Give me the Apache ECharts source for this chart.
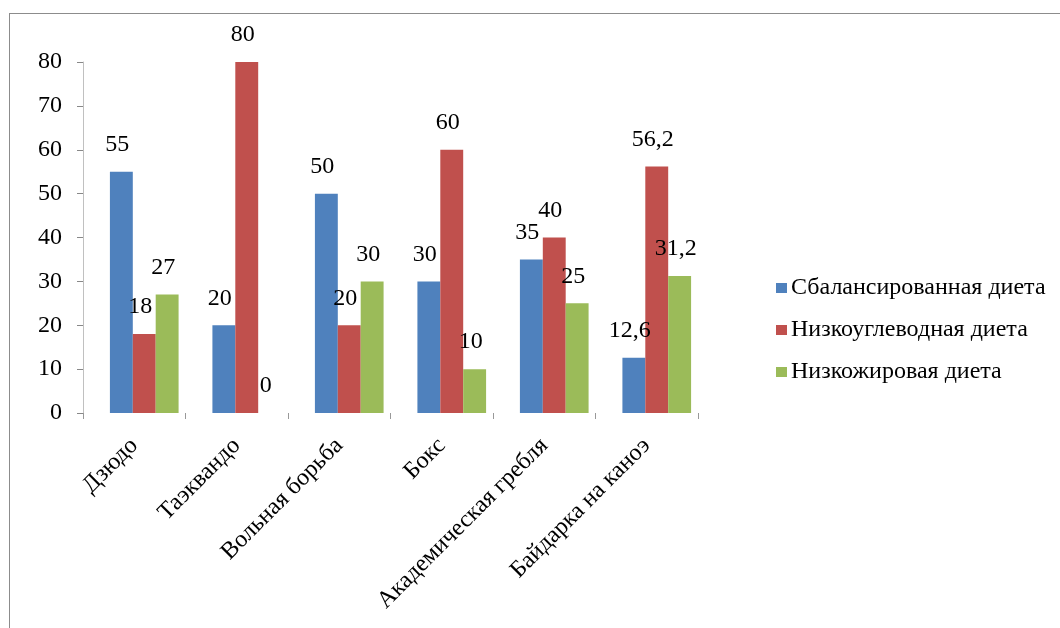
<!DOCTYPE html>
<html>
<head>
<meta charset="utf-8">
<script src="https://cdn.jsdelivr.net/npm/echarts@6/dist/echarts.min.js"></script>
<style>
  html, body { margin: 0; padding: 0; background: #fff; overflow: hidden; }
  #frame {
    position: absolute; left: 9px; top: 13px;
    width: 1100px; height: 660px;
    border: 1px solid #8c8c8c; box-sizing: border-box;
  }
  #chart { position: absolute; left: 0; top: 0; width: 1060px; height: 628px; }
</style>
</head>
<body>
<div id="frame"></div>
<div id="chart"></div>
<script>
// Виды спорта
const categories = ['Дзюдо', 'Таэквандо', 'Вольная борьба', 'Бокс', 'Академическая гребля', 'Байдарка на каноэ'];

// Значения по диетам
const balanced = [55, 20, 50, 30, 35, 12.6];
const lowCarb = [18, 80, 20, 60, 40, 56.2];
const lowFat = [27, 0, 30, 10, 25, 31.2];

const seriesNames = ['Сбалансированная диета', 'Низкоуглеводная диета', 'Низкожировая диета'];
const yTicks = { min: 0, max: 80, interval: 10 };

const FONT = '"Liberation Serif", "DejaVu Serif", serif';
const colors = ['#4F81BD', '#C0504D', '#9BBB59'];

const chart = echarts.init(document.getElementById('chart'));

// подпись над столбцом, запятая как десятичный разделитель
const labelFmt = (p) => String(p.value).replace('.', ',');

const makeSeries = (name, data, color) => ({
  name,
  type: 'bar',
  xAxisIndex: 1,
  yAxisIndex: 1,
  data,
  barGap: '0%',
  barCategoryGap: '33%',
  itemStyle: { color },
  label: {
    show: true,
    position: 'top',
    distance: 15,
    offset: [-4, 0],
    formatter: labelFmt,
    fontFamily: FONT,
    fontSize: 24,
    color: '#000',
  },
});

chart.setOption({
  animation: false,
  textStyle: { fontFamily: FONT },
  legend: {
    orient: 'vertical',
    left: 771,
    top: 271,
    itemWidth: 11,
    itemHeight: 10,
    itemGap: 18,
    icon: 'rect',
    textStyle: { fontFamily: FONT, fontSize: 24, lineHeight: 24, color: '#000', padding: [0, 0, 0, -1] },
    data: seriesNames,
  },
  // grid 0 — оси, деления и подписи; grid 1 — столбцы (смещены вправо, как в исходнике)
  grid: [
    { left: 83, right: 362, top: 62, bottom: 215, containLabel: false },
    { left: 93, right: 352, top: 62, bottom: 215, containLabel: false },
  ],
  xAxis: [
    {
      type: 'category',
      gridIndex: 0,
      data: categories,
      axisLine: { show: false },
      axisTick: { show: true, length: 6, lineStyle: { color: '#999' } },
      axisLabel: {
        interval: 0,
        rotate: 45,
        margin: 29,
        fontFamily: FONT,
        fontSize: 24,
        color: '#000',
      },
    },
    {
      type: 'category',
      gridIndex: 1,
      data: categories,
      show: false,
    },
  ],
  yAxis: [
    {
      type: 'value',
      gridIndex: 0,
      min: yTicks.min,
      max: yTicks.max,
      interval: yTicks.interval,
      splitLine: { show: false },
      axisLine: { show: true, lineStyle: { color: '#c0c0c0' } },
      axisTick: { show: true, length: 6, lineStyle: { color: '#888' } },
      axisLabel: { fontFamily: FONT, fontSize: 24, color: '#000', margin: 21 },
    },
    {
      type: 'value',
      gridIndex: 1,
      min: yTicks.min,
      max: yTicks.max,
      interval: yTicks.interval,
      show: false,
      splitLine: { show: false },
    },
  ],
  series: [
    makeSeries(seriesNames[0], balanced, colors[0]),
    makeSeries(seriesNames[1], lowCarb, colors[1]),
    makeSeries(seriesNames[2], lowFat, colors[2]),
  ],
});
</script>
</body>
</html>
